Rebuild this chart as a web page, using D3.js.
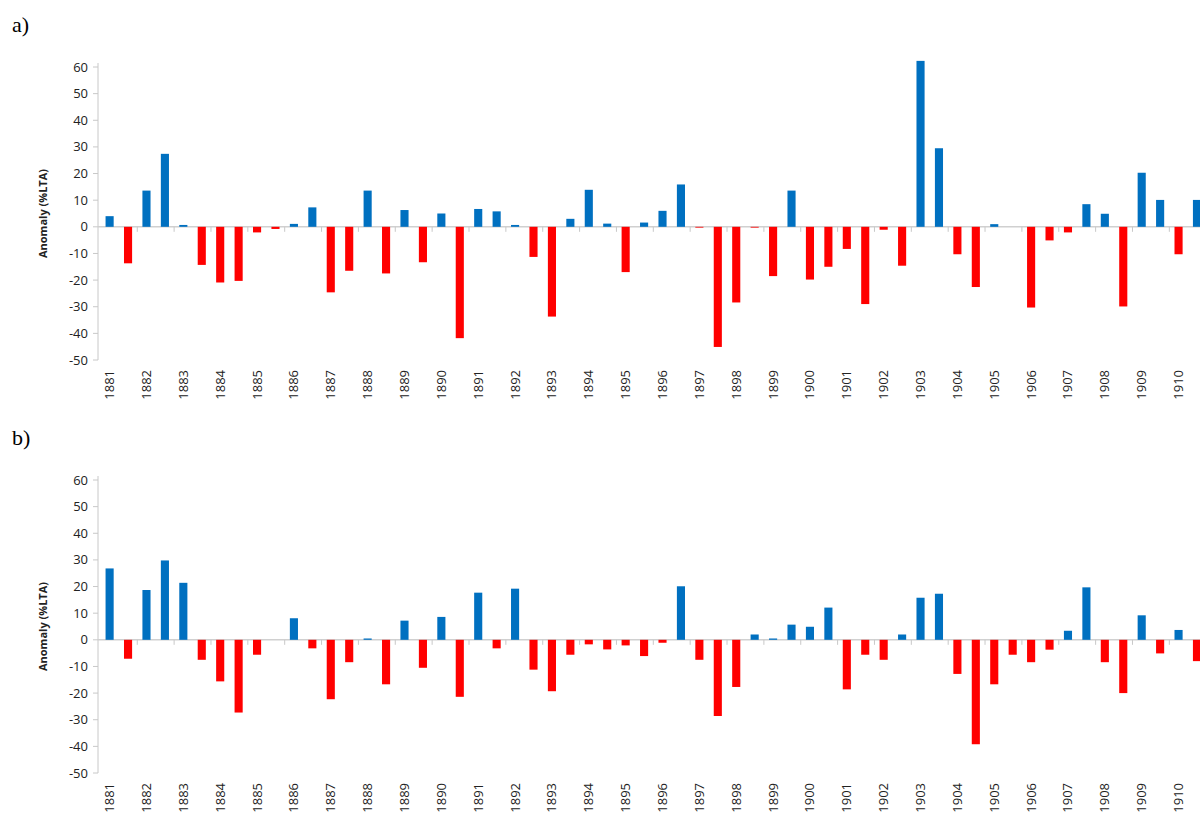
<!DOCTYPE html>
<html><head><meta charset="utf-8">
<script src="https://cdn.jsdelivr.net/npm/d3@7"></script>
<style>body{margin:0;background:#fff}</style></head>
<body><svg id="c" width="1200" height="820"></svg>
<script>
const years = d3.range(1881, 1911).map(String);
const seasons = ["a","b"];
const yTicks = [60,50,40,30,20,10,0,-10,-20,-30,-40,-50];
const seriesA = [4.0,-13.7,13.6,27.4,0.7,-14.3,-20.9,-20.3,-2.1,-0.8,1.1,7.3,-24.6,-16.5,13.6,-17.5,6.3,-13.3,5.0,-41.8,6.7,5.8,0.7,-11.3,-33.7,3.0,13.9,1.2,-17.0,1.6,
6.0,15.9,-0.3,-45.1,-28.4,-0.3,-18.5,13.6,-19.8,-15.0,-8.3,-29.0,-1.1,-14.6,62.3,29.5,-10.3,-22.6,1.0,0,-30.3,-5.1,-2.1,8.5,4.9,-29.9,20.3,10.1,-10.3,10.1];
const seriesB = [26.8,-7.1,18.7,29.8,21.4,-7.5,-15.6,-27.3,-5.6,0,8.1,-3.2,-22.3,-8.4,0.5,-16.7,7.2,-10.5,8.6,-21.4,17.7,-3.2,19.2,-11.2,-19.3,-5.6,-1.7,-3.6,-2.1,-6.1,
-1.1,20.1,-7.5,-28.6,-17.7,2.0,0.5,5.7,4.9,12.1,-18.6,-5.6,-7.5,2.0,15.8,17.3,-12.8,-39.2,-16.7,-5.6,-8.4,-3.7,3.4,19.7,-8.4,-20.0,9.2,-5.1,3.7,-8.0];
const cats = years.flatMap(y => seasons.map(s => y + s));

const svg = d3.select("#c");
const x = d3.scaleBand().domain(cats).range([100.4, 100.4 + 60*18.43]).paddingInner(0.56).paddingOuter(0.28);

function panel(data, top, label) {
  const y = d3.scaleLinear().domain([-50, 60]).range([top + 293, top]);
  const g = svg.append("g");
  svg.append("text").attr("x", 12).attr("y", top - 35).attr("font-family", "Liberation Serif").attr("font-size", 22).text(label);
  g.append("line").attr("x1", 98).attr("x2", 98).attr("y1", y(60)-4).attr("y2", y(-50)).attr("stroke", "#c8c8c8");
  yTicks.forEach(t => {
    g.append("line").attr("x1", 93).attr("x2", 98).attr("y1", y(t)).attr("y2", y(t)).attr("stroke", "#c8c8c8");
    g.append("text").attr("x", 88).attr("y", y(t)).attr("dy", "0.35em").attr("text-anchor", "end")
      .attr("font-family", "Open Sans, sans-serif").attr("font-size", 13).attr("fill", "#222").text(t);
  });
  g.append("text").attr("transform", `translate(47,${(y(60)+y(-50))/2}) rotate(-90)`).attr("text-anchor", "middle")
    .attr("font-family", "Open Sans, sans-serif").attr("font-weight", "bold").attr("font-size", 11).attr("fill", "#222").text("Anomaly (%LTA)");
  g.append("line").attr("x1", 98).attr("x2", 1200).attr("y1", y(0)).attr("y2", y(0)).attr("stroke", "#d0d0d0").attr("stroke-width", 1.5);
  years.forEach((yr, i) => {
    if (i === 0) return;
    const xt = x(yr + "a") - x.step()*x.paddingInner()/2;
    g.append("line").attr("x1", xt).attr("x2", xt).attr("y1", y(0)).attr("y2", y(0)+5).attr("stroke", "#c8c8c8");
  });
  g.selectAll("rect").data(data).join("rect")
    .attr("x", (d, i) => x(cats[i])).attr("width", x.bandwidth())
    .attr("y", d => y(Math.max(0, d))).attr("height", d => Math.abs(y(d) - y(0)))
    .attr("fill", d => d >= 0 ? "#0070c0" : "#ff0000");
  years.forEach(yr => {
    const cx = x(yr + "a") + x.bandwidth()/2;
    g.append("text").attr("transform", `translate(${cx+4.5},${y(-50)+10}) rotate(-90)`).attr("text-anchor", "end")
      .attr("font-family", "Open Sans, sans-serif").attr("font-size", 13).attr("fill", "#222").text(yr);
  });
}
panel(seriesA, 67, "a)");
panel(seriesB, 480, "b)");
</script></body></html>
